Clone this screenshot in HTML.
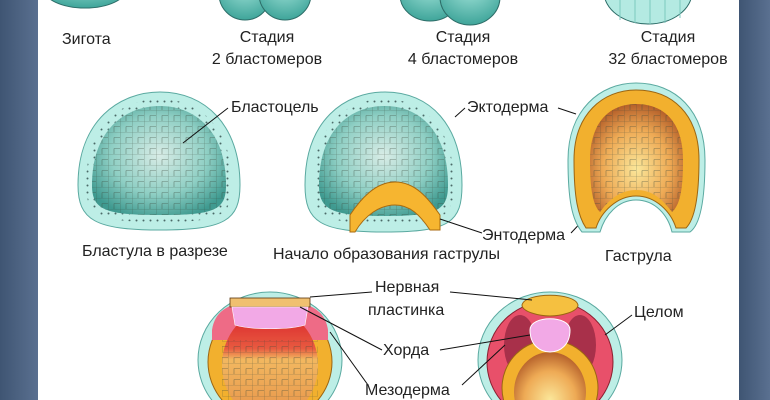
<!DOCTYPE html>
<html><head><meta charset="utf-8"><style>
html,body{margin:0;padding:0;background:#fff;width:770px;height:400px;overflow:hidden}
svg{display:block}
text{font-family:"Liberation Sans",sans-serif;font-size:16px;fill:#222}
</style></head><body>
<svg width="770" height="400" viewBox="0 0 770 400" xmlns="http://www.w3.org/2000/svg">
<defs>
<clipPath id="frame"><rect x="0" y="0" width="770" height="400"/></clipPath>
<linearGradient id="side" x1="0" x2="1"><stop offset="0" stop-color="#3f5573"/><stop offset="1" stop-color="#5a7090"/></linearGradient>
<radialGradient id="teal" cx="0.5" cy="0.45" r="0.6"><stop offset="0" stop-color="#d8ece6"/><stop offset="0.6" stop-color="#8fcfc4"/><stop offset="1" stop-color="#3f9a90"/></radialGradient>
<radialGradient id="ball" cx="0.5" cy="0.3" r="0.7"><stop offset="0" stop-color="#a6e6dc"/><stop offset="1" stop-color="#3fa59a"/></radialGradient>
<radialGradient id="yolk" cx="0.5" cy="0.6" r="0.6"><stop offset="0" stop-color="#fbe79a"/><stop offset="0.6" stop-color="#eeaa55"/><stop offset="1" stop-color="#b5602a"/></radialGradient>
<linearGradient id="redy" x1="0" y1="0" x2="0" y2="1"><stop offset="0" stop-color="#d8202a"/><stop offset="0.35" stop-color="#e85a40"/><stop offset="0.45" stop-color="#f2b860"/><stop offset="1" stop-color="#e69048"/></linearGradient>
<pattern id="cells" width="12" height="11" patternUnits="userSpaceOnUse"><path d="M0 0 L12 0 M0 0 L0 11 M6 5.5 L12 5.5 M6 5.5 L6 11" stroke="#3b4a3a" stroke-width="0.6" fill="none" opacity="0.6"/></pattern>
<pattern id="dots" width="7" height="7" patternUnits="userSpaceOnUse"><circle cx="3.5" cy="3.5" r="1" fill="#1a3030"/></pattern>
</defs>
<g clip-path="url(#frame)">
<rect x="0" y="0" width="38" height="400" fill="url(#side)"/>
<rect x="739" y="0" width="31" height="400" fill="url(#side)"/>

<ellipse cx="85" cy="-12" rx="42" ry="20" fill="url(#ball)" stroke="#2d6d68"/>
<ellipse cx="245" cy="-6" rx="26" ry="26" fill="url(#ball)" stroke="#2d6d68"/>
<ellipse cx="285" cy="-6" rx="26" ry="26" fill="url(#ball)" stroke="#2d6d68"/>
<ellipse cx="430" cy="-5" rx="30" ry="26" fill="url(#ball)" stroke="#2d6d68"/>
<ellipse cx="470" cy="-3" rx="30" ry="28" fill="url(#ball)" stroke="#2d6d68"/>
<ellipse cx="648" cy="-8" rx="44" ry="32" fill="#b4eae2" stroke="#2d6d68"/>
<g stroke="#7cc9bf" stroke-width="1" fill="none"><path d="M620 0 V20 M635 0 V23 M650 0 V24 M665 0 V23 M680 0 V18"/></g>

<text x="62" y="44">Зигота</text>
<text x="267" y="42" text-anchor="middle">Стадия</text>
<text x="267" y="64" text-anchor="middle">2 бластомеров</text>
<text x="463" y="42" text-anchor="middle">Стадия</text>
<text x="463" y="64" text-anchor="middle">4 бластомеров</text>
<text x="668" y="42" text-anchor="middle">Стадия</text>
<text x="668" y="64" text-anchor="middle">32 бластомеров</text>

<path d="M78 185 C78 120 120 92 160 92 C205 92 240 125 240 185 C240 220 225 230 160 230 C95 230 78 220 78 185Z" fill="#bdeee6" stroke="#5aa9a0"/>
<path d="M86 185 C86 124 122 99 160 99 C200 99 232 128 232 185 C232 216 220 222 160 222 C100 222 86 216 86 185Z" fill="url(#dots)" opacity="0.7"/>
<path d="M92 185 C92 130 125 106 160 106 C196 106 226 132 226 185 C226 210 215 215 160 215 C105 215 92 210 92 185Z" fill="url(#teal)"/>
<path d="M92 185 C92 130 125 106 160 106 C196 106 226 132 226 185 C226 210 215 215 160 215 C105 215 92 210 92 185Z" fill="url(#cells)"/>
<line x1="228" y1="108" x2="183" y2="143" stroke="#111"/>
<text x="231" y="112">Бластоцель</text>
<text x="82" y="256">Бластула в разрезе</text>

<path d="M305 185 C305 120 345 92 385 92 C430 92 462 125 462 185 C462 222 450 232 385 232 C320 232 305 222 305 185Z" fill="#bdeee6" stroke="#5aa9a0"/>
<path d="M313 185 C313 124 347 99 385 99 C424 99 454 128 454 185 C454 216 444 224 385 224 C326 224 313 216 313 185Z" fill="url(#dots)" opacity="0.7"/>
<path d="M319 185 C319 130 350 106 385 106 C420 106 448 132 448 185 C448 210 438 216 385 216 C332 216 319 210 319 185Z" fill="url(#teal)"/>
<path d="M319 185 C319 130 350 106 385 106 C420 106 448 132 448 185 C448 210 438 216 385 216 C332 216 319 210 319 185Z" fill="url(#cells)"/>
<path d="M350 215 C360 200 375 182 395 182 C415 182 428 198 440 215 L440 230 L430 230 C420 215 410 205 395 205 C380 205 365 215 355 232 L350 232Z" fill="#f6b530" stroke="#a86a10"/>
<line x1="465" y1="108" x2="455" y2="117" stroke="#111"/>
<text x="467" y="112">Эктодерма</text>
<line x1="558" y1="108" x2="576" y2="114" stroke="#111"/>
<line x1="482" y1="233" x2="440" y2="219" stroke="#111"/>
<line x1="571" y1="233" x2="588" y2="215" stroke="#111"/>
<text x="482" y="240">Энтодерма</text>
<text x="273" y="259">Начало образования гаструлы</text>

<path d="M568 160 C568 110 600 83 636 83 C675 83 705 110 705 160 C705 200 700 225 690 232 L672 232 C668 215 655 200 636 200 C618 200 605 215 600 232 L582 232 C572 220 568 200 568 160Z" fill="#bdeee6" stroke="#5aa9a0"/>
<path d="M574 160 C574 114 603 90 636 90 C672 90 699 114 699 160 C699 198 694 220 686 228 L676 228 C671 212 656 196 636 196 C617 196 601 212 596 228 L586 228 C578 216 574 198 574 160Z" fill="#f2b02e" stroke="#9b6512"/>
<path d="M590 160 C590 122 610 104 636 104 C664 104 683 122 683 160 C683 190 680 205 672 212 C660 196 650 190 636 190 C622 190 610 198 600 212 C593 205 590 190 590 160Z" fill="url(#yolk)"/>
<path d="M590 160 C590 122 610 104 636 104 C664 104 683 122 683 160 C683 190 680 205 672 212 C660 196 650 190 636 190 C622 190 610 198 600 212 C593 205 590 190 590 160Z" fill="url(#cells)"/>
<text x="605" y="261">Гаструла</text>

<ellipse cx="270" cy="360" rx="72" ry="68" fill="#bdeee6" stroke="#5aa9a0"/>
<ellipse cx="270" cy="362" rx="62" ry="60" fill="#f2b02e" stroke="#9b6512"/>
<path d="M212 330 C215 310 230 300 270 300 C310 300 325 310 328 330 L328 340 L212 340Z" fill="#ee6b86"/>
<ellipse cx="270" cy="365" rx="48" ry="55" fill="url(#redy)"/>
<rect x="230" y="298" width="80" height="9" fill="#f0c070" stroke="#5a3510" stroke-width="0.8"/>
<path d="M232 307 H308 L305 325 C290 330 250 330 235 325Z" fill="#f2a9e6" stroke="#fff" stroke-width="0.6"/>
<rect x="222" y="340" width="96" height="60" fill="url(#cells)"/>

<ellipse cx="550" cy="360" rx="72" ry="68" fill="#bdeee6" stroke="#5aa9a0"/>
<ellipse cx="550" cy="362" rx="63" ry="61" fill="#e8506a" stroke="#8a2030"/>
<ellipse cx="520" cy="345" rx="16" ry="30" fill="#a8304a"/>
<ellipse cx="580" cy="345" rx="16" ry="30" fill="#a8304a"/>
<ellipse cx="550" cy="388" rx="48" ry="48" fill="#f2b02e" stroke="#9b6512"/>
<ellipse cx="550" cy="392" rx="36" ry="40" fill="url(#yolk)"/>
<path d="M522 305 C525 292 575 292 578 305 C578 312 560 316 550 316 C540 316 522 312 522 305Z" fill="#f5c040" stroke="#9b6512"/>
<path d="M530 330 C530 315 570 315 570 330 C570 345 560 352 550 352 C540 352 530 345 530 330Z" fill="#f2a9e6" stroke="#fff"/>

<g stroke="#111" fill="none">
<line x1="310" y1="297" x2="372" y2="292"/>
<line x1="450" y1="292" x2="532" y2="300"/>
<line x1="300" y1="307" x2="382" y2="350"/>
<line x1="440" y1="350" x2="530" y2="335"/>
<line x1="330" y1="332" x2="368" y2="385"/>
<line x1="462" y1="385" x2="505" y2="345"/>
<line x1="632" y1="315" x2="605" y2="335"/>
</g>
<text x="375" y="292">Нервная</text>
<text x="368" y="315">пластинка</text>
<text x="383" y="355">Хорда</text>
<text x="365" y="395">Мезодерма</text>
<text x="634" y="317">Целом</text>
</g>
</svg>
</body></html>
